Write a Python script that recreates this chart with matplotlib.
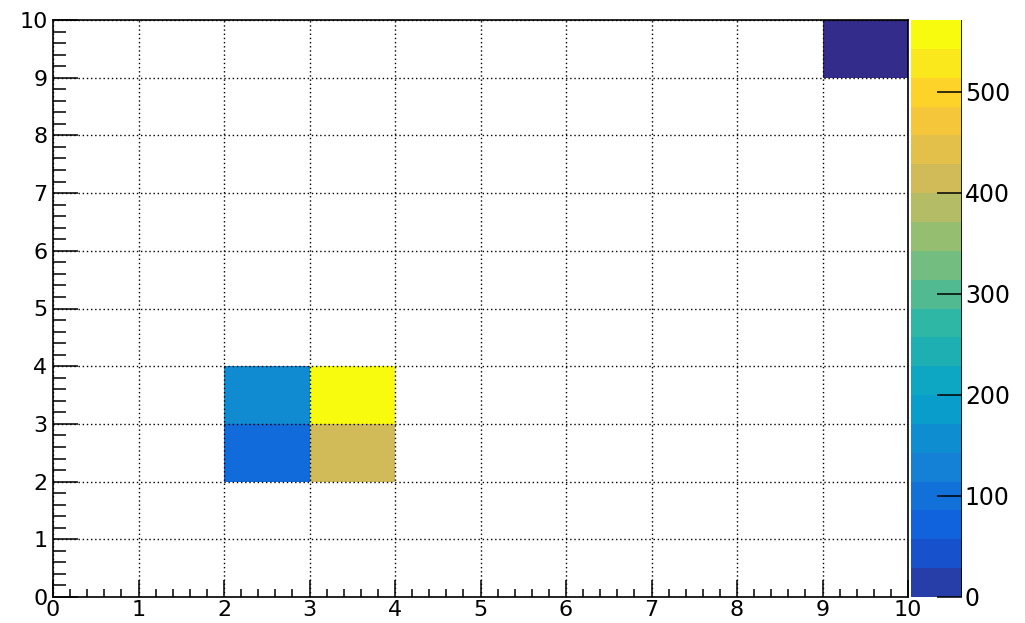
import numpy as np
import matplotlib
matplotlib.use("Agg")
from matplotlib import pyplot as plt
from matplotlib.colors import LinearSegmentedColormap, ListedColormap, BoundaryNorm, Normalize
from matplotlib.cm import ScalarMappable

# bin edges of the 2D histogram
x_edges = np.arange(0, 11)
y_edges = np.arange(0, 11)

# filled bins: (x bin low edge, y bin low edge, content)
bin_x = [2, 3, 2, 3, 9]
bin_y = [2, 2, 3, 3, 9]
bin_content = [102, 428, 165, 571, 3]

z_max = 571
n_contours = 20
cbar_ticks = [0, 100, 200, 300, 400, 500]

# ROOT kBird palette
stops = [0.0, 0.125, 0.25, 0.375, 0.5, 0.625, 0.75, 0.875, 1.0]
red = [0.2082, 0.0592, 0.0780, 0.0232, 0.1802, 0.5301, 0.8186, 0.9956, 0.9764]
green = [0.1664, 0.3599, 0.5041, 0.6419, 0.7178, 0.7492, 0.7328, 0.7862, 0.9832]
blue = [0.5293, 0.8684, 0.8385, 0.7914, 0.6425, 0.4662, 0.3499, 0.1968, 0.0539]

bird = LinearSegmentedColormap.from_list(
    "bird", list(zip(stops, zip(red, green, blue))), N=255)
palette = bird(np.arange(255))
band_colors = [palette[int((i + 0.99) * 255 / n_contours)] for i in range(n_contours)]
band_cmap = ListedColormap(band_colors)

# histogram array, empty bins masked
h = np.full((len(y_edges) - 1, len(x_edges) - 1), np.nan)
for bx, by, c in zip(bin_x, bin_y, bin_content):
    h[by, bx] = c
h = np.ma.masked_invalid(h)

plt.rcParams['font.family'] = ['DejaVu Sans']
fig = plt.figure(figsize=(10.25, 6.23), dpi=100)
ax = fig.add_axes([53 / 1025, 1 - 597 / 623, 855 / 1025, 577 / 623])
cax = fig.add_axes([911 / 1025, 1 - 597 / 623, 51 / 1025, 577 / 623])

ax.pcolormesh(x_edges, y_edges, h, cmap=bird, norm=Normalize(0, z_max))
ax.set_xlim(0, 10)
ax.set_ylim(0, 10)
ax.set_xticks(np.arange(0, 11))
ax.set_yticks(np.arange(0, 11))
ax.set_xticks(np.arange(0, 10.01, 0.2), minor=True)
ax.set_yticks(np.arange(0, 10.01, 0.2), minor=True)
ax.tick_params(axis='x', which='major', direction='in', length=12.2, width=1.1,
               labelsize=16, pad=2)
ax.tick_params(axis='x', which='minor', direction='in', length=6.1, width=1.1)
ax.tick_params(axis='y', which='major', direction='in', length=18, width=1.1,
               labelsize=16, pad=4)
ax.tick_params(axis='y', which='minor', direction='in', length=9.2, width=1.1)
ax.grid(True, which='major', color='black', linestyle=(0, (1, 2)), linewidth=1)
ax.set_axisbelow(False)
for s in ax.spines.values():
    s.set_linewidth(1.2)

# colour palette box
levels = np.linspace(0, z_max, n_contours + 1)
sm = ScalarMappable(norm=BoundaryNorm(levels, n_contours), cmap=band_cmap)
cb = fig.colorbar(sm, cax=cax, ticks=cbar_ticks)
cb.outline.set_visible(False)
cax.minorticks_off()
cax.axvline(1, color='black', linewidth=1.2)
cax.tick_params(axis='y', which='major', direction='in', length=18, width=1.1,
                labelsize=17, pad=2, right=True, left=False)

fig.savefig("out.png", dpi=100)
